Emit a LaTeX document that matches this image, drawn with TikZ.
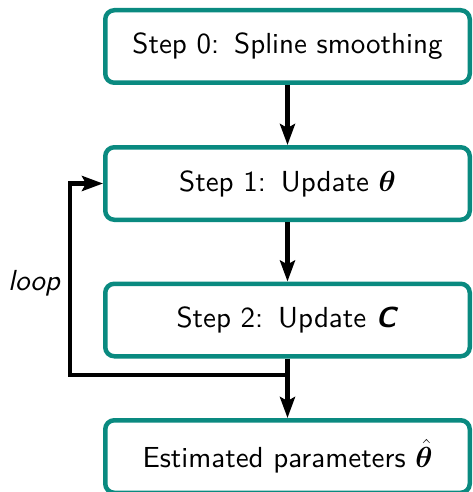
\RequirePackage{fix-cm}
\documentclass[tikz,border=0pt]{standalone}
\usepackage{amsmath}
\usepackage{bm}
\usepackage{fontspec}
\setsansfont{lmsans10-regular.otf}[
  BoldFont=lmsans10-bold.otf,
  ItalicFont=lmsans10-oblique.otf,
  BoldItalicFont=lmsans10-boldoblique.otf]
\usetikzlibrary{arrows.meta}
\definecolor{stepteal}{RGB}{10,138,128}
\newcommand{\stepgap}{\hspace{15pt}}
\tikzset{
  stepbox/.style={draw=stepteal, line width=4.5pt, rounded corners=9pt, fill=white,
    minimum width=364.5pt, minimum height=72.5pt, inner sep=0pt,
    font=\fontsize{29}{34}\selectfont\sffamily},
  flow/.style={line width=4.5pt, draw=black, line join=miter,
    -{Stealth[length=21pt, width=15pt, inset=4pt]}}
}
\begin{document}
\begin{tikzpicture}[x=1pt, y=-1pt]
  \useasboundingbox (0,0) rectangle (473,492);

  % the four stages of the procedure
  \node[stepbox] (s0) at (287.5,46.5)  {Step 0:\stepgap Spline smoothing};
  \node[stepbox] (s1) at (287.5,183.5) {Step 1:\stepgap Update $\bm{\theta}$};
  \node[stepbox] (s2) at (287.5,320)   {Step 2:\stepgap Update \textbf{\textit{C}}};
  \node[stepbox] (s3) at (287.5,456.5) {Estimated parameters $\hat{\bm{\theta}}$};

  % straight-down flow
  \draw[flow] (s0) -- (s1);
  \draw[flow] (s1) -- (s2);
  \draw[flow] (s2) -- (s3);

  % iteration back from step 2 to step 1
  \coordinate (split) at (287.5,375);
  \coordinate (turn) at (70,375);
  \draw[flow] (split) -- (turn) |- (s1.west);
  \node[font=\fontsize{29}{34}\selectfont\sffamily\itshape] (lbl) at (34,283) {loop};
\end{tikzpicture}
\end{document}
